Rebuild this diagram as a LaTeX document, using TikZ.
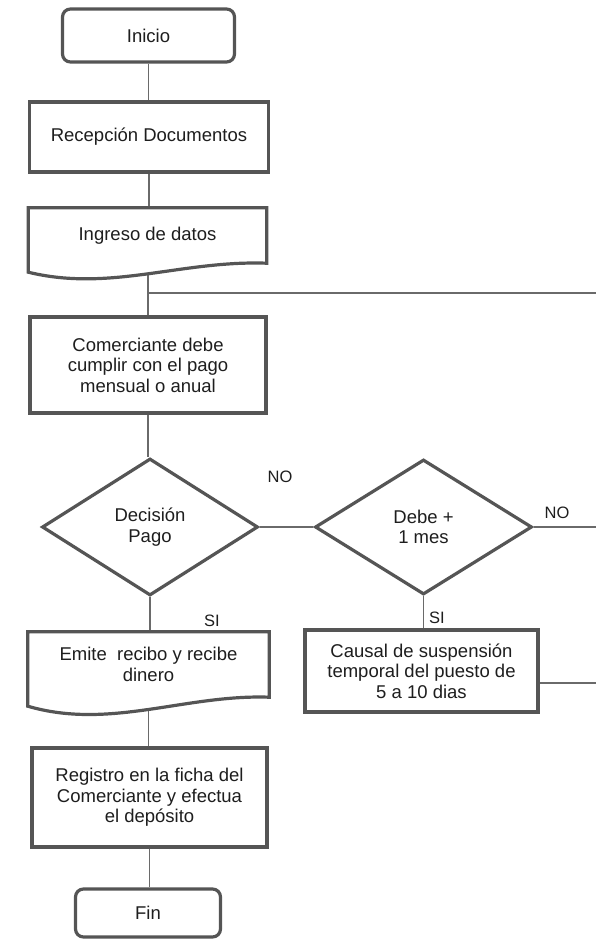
\documentclass[tikz,border=0pt]{standalone}
\usepackage{fontspec}
\setmainfont{Liberation Sans}
\usetikzlibrary{shapes.geometric,calc,backgrounds}
\definecolor{bordc}{HTML}{555555}
\definecolor{linec}{HTML}{6A6A6A}
\definecolor{txtc}{HTML}{1E1E1E}
\tikzset{
  boxline/.style={draw=bordc, line width=3.2pt, fill=white, line join=miter},
  procbox/.style={boxline, rectangle, inner sep=0pt, align=center, text=txtc, font=\fontsize{18.5}{20.5}\selectfont},
  termbox/.style={procbox, rounded corners=8pt},
  docbox/.style={rectangle, inner sep=0pt, align=center, text=txtc, font=\fontsize{18.5}{20.5}\selectfont},
  decbox/.style={boxline, diamond, inner sep=0pt, align=center, text=txtc, font=\fontsize{18.5}{20.5}\selectfont},
  conn/.style={draw=linec, line width=1.5pt},
  lbl/.style={text=txtc, font=\fontsize{16.5}{18}\selectfont, inner sep=0pt}
}
\begin{document}
\begin{tikzpicture}[x=1pt,y=-1pt]
\useasboundingbox (0,0) rectangle (596,950);

% terminals and processes
\node[termbox, minimum width=172, minimum height=53] (inicio) at (148.5,35.5) {Inicio};
\node[procbox, minimum width=239, minimum height=70] (recep) at (149,137) {Recepción Documentos};

% Ingreso de datos (document shape)
\node[docbox, minimum width=238, minimum height=55] (ing) at (147.5,235.5) {Ingreso de datos};
\begin{scope}[on background layer]
\fill[white] (ing.south east) -- (ing.north east) -- (ing.north west) -- ([yshift=-9pt]ing.south west)
  .. controls ([xshift=82pt,yshift=-29pt]ing.south west) and ([xshift=-86pt,yshift=3pt]ing.south east) .. (ing.south east) -- cycle;
\end{scope}

\node[procbox, minimum width=236, minimum height=96] (com) at (148,365)
  {Comerciante debe\\cumplir con el pago\\mensual o anual};

\node[decbox, minimum width=216, minimum height=137] (dec) at (150,527) {Decisión\\Pago};
\node[decbox, minimum width=217, minimum height=135] (debe) at (423.5,527) {Debe +\\1 mes};

\node[procbox, minimum width=233, minimum height=82] (causal) at (421.5,671)
  {Causal de suspensión\\temporal del puesto de\\5 a 10 dias};

% Emite recibo (document shape)
\node[docbox, minimum width=241, minimum height=65] (emite) at (148.5,664.5) {Emite \ recibo y recibe\\dinero};

\node[procbox, minimum width=235, minimum height=99] (reg) at (149.5,797.5)
  {Registro en la ficha del\\Comerciante y efectua\\el depósito};
\node[termbox, minimum width=145, minimum height=48] (fin) at (148,913) {Fin};

% labels
\node[lbl] (no1) at (280,477) {NO};
\node[lbl] (no2) at (557,513) {NO};
\node[lbl] (si1) at (212,621) {SI};
\node[lbl] (si2) at (437,618) {SI};

% free ends at the right margin
\coordinate (e1) at (596,293);
\coordinate (e3) at (596,683);
\coordinate (ingb) at ([yshift=-11pt]ing.south -| com.north);
\coordinate (emiteb) at ([yshift=-12pt]emite.south);

% connectors (behind shapes)
\begin{scope}[on background layer]
\draw[conn] (inicio.south) -- (inicio.south |- recep.north);
\draw[conn] (recep.south) -- (recep.south |- ing.north);
\draw[conn] (ingb) -- (com.north);
\draw[conn] (com.north |- e1) -- (e1);
\draw[conn] (com.south) -- (com.south |- dec.north);
\draw[conn] (dec.east) -- (debe.west);
\draw[conn] (debe.east) -- (debe.east -| e1);
\draw[conn] (debe.south) -- (debe.south |- causal.north);
\draw[conn] (causal.east |- e3) -- (e3);
\draw[conn] (dec.south) -- (dec.south |- emite.north);
\draw[conn] (emiteb) -- (emiteb |- reg.north);
\draw[conn] (reg.south) -- (reg.south |- fin.north);
\end{scope}

% document outlines
\draw[boxline, fill=none] (ing.south east) -- (ing.north east) -- (ing.north west) -- ([yshift=-9pt]ing.south west)
  .. controls ([xshift=82pt,yshift=-29pt]ing.south west) and ([xshift=-86pt,yshift=3pt]ing.south east) .. (ing.south east) -- cycle;
\begin{scope}[on background layer]
\fill[white] (emite.south east) -- (emite.north east) -- (emite.north west) -- ([yshift=-9pt]emite.south west)
  .. controls ([xshift=82pt,yshift=-33pt]emite.south west) and ([xshift=-84pt,yshift=3pt]emite.south east) .. (emite.south east) -- cycle;
\end{scope}
\draw[boxline, fill=none] (emite.south east) -- (emite.north east) -- (emite.north west) -- ([yshift=-9pt]emite.south west)
  .. controls ([xshift=82pt,yshift=-33pt]emite.south west) and ([xshift=-84pt,yshift=3pt]emite.south east) .. (emite.south east) -- cycle;
\end{tikzpicture}
\end{document}
